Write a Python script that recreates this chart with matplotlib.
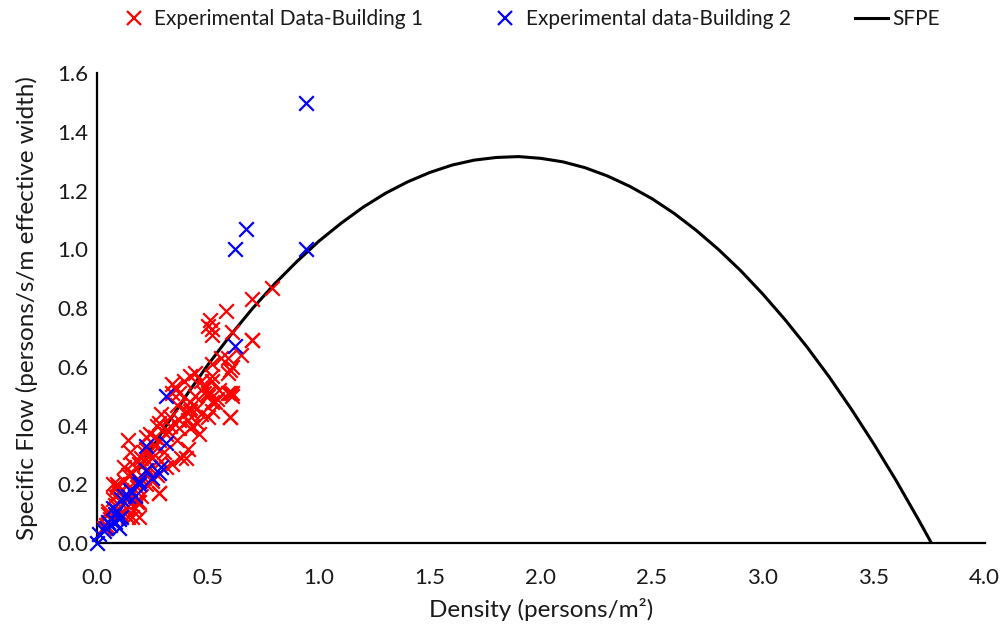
import numpy as np
import matplotlib
matplotlib.use("Agg")
import matplotlib.pyplot as plt
from matplotlib.lines import Line2D

plt.rcParams['font.family'] = ['Lato', 'DejaVu Sans']

# Building 1 measurements: density (persons/m2), specific flow (persons/s/m)
b1_density = [0.79, 0.70, 0.58, 0.51, 0.52, 0.61, 0.70, 0.59, 0.61, 0.59, 0.52, 0.42,
              0.52, 0.61, 0.61, 0.48, 0.50, 0.44, 0.35, 0.37, 0.60, 0.50, 0.52, 0.42,
              0.41, 0.29, 0.28, 0.33, 0.37, 0.42, 0.32, 0.24, 0.22, 0.14, 0.28, 0.41,
              0.38, 0.40, 0.34, 0.29, 0.24, 0.20, 0.15, 0.16, 0.27, 0.28, 0.22, 0.20,
              0.17, 0.19, 0.14, 0.12, 0.09, 0.10, 0.07, 0.05, 0.12, 0.15, 0.23, 0.44,
              0.47, 0.40, 0.36, 0.52, 0.50, 0.53, 0.60, 0.70, 0.52, 0.42, 0.39, 0.34,
              0.34, 0.48, 0.50, 0.60, 0.42, 0.45, 0.52, 0.09, 0.07, 0.16, 0.19, 0.05,
              0.03, 0.13, 0.28, 0.60, 0.59, 0.14, 0.11, 0.18, 0.21, 0.25, 0.26, 0.31,
              0.30, 0.23, 0.17, 0.13, 0.08, 0.06, 0.11, 0.15, 0.19, 0.22, 0.26, 0.33,
              0.37, 0.45, 0.47, 0.55, 0.56, 0.46, 0.31, 0.25, 0.18, 0.10, 0.04, 0.08,
              0.12, 0.21, 0.36, 0.43, 0.54, 0.65, 0.27, 0.20, 0.16, 0.14]
b1_flow = [0.87, 0.83, 0.79, 0.76, 0.73, 0.72, 0.69, 0.63, 0.60, 0.58, 0.57, 0.57,
           0.55, 0.51, 0.50, 0.51, 0.50, 0.50, 0.53, 0.51, 0.43, 0.43, 0.45, 0.45,
           0.42, 0.44, 0.41, 0.43, 0.39, 0.39, 0.38, 0.37, 0.36, 0.35, 0.35, 0.32,
           0.29, 0.29, 0.27, 0.28, 0.30, 0.29, 0.31, 0.27, 0.23, 0.17, 0.20, 0.16,
           0.12, 0.09, 0.09, 0.14, 0.20, 0.17, 0.15, 0.11, 0.21, 0.18, 0.25, 0.58,
           0.55, 0.45, 0.47, 0.71, 0.74, 0.48, 0.59, 0.69, 0.61, 0.48, 0.55, 0.54,
           0.51, 0.53, 0.51, 0.51, 0.46, 0.46, 0.48, 0.19, 0.20, 0.09, 0.14, 0.10,
           0.05, 0.12, 0.17, 0.43, 0.51, 0.23, 0.10, 0.19, 0.22, 0.29, 0.33, 0.37,
           0.31, 0.28, 0.21, 0.16, 0.13, 0.08, 0.18, 0.24, 0.27, 0.32, 0.36, 0.40,
           0.42, 0.41, 0.44, 0.52, 0.63, 0.37, 0.26, 0.21, 0.14, 0.10, 0.06, 0.16,
           0.26, 0.31, 0.35, 0.40, 0.49, 0.64, 0.40, 0.27, 0.24, 0.15]

# Building 2 measurements
b2_density = [0.94, 0.94, 0.67, 0.62, 0.62, 0.31, 0.22, 0.31, 0.29, 0.22, 0.19, 0.17,
              0.14, 0.11, 0.00, 0.03, 0.05, 0.08, 0.10, 0.07, 0.12, 0.15, 0.19, 0.25,
              0.28, 0.10, 0.01, 0.06, 0.09, 0.04, 0.11, 0.08]
b2_flow = [1.50, 1.00, 1.07, 1.00, 0.67, 0.50, 0.33, 0.34, 0.26, 0.25, 0.21, 0.16,
           0.16, 0.15, 0.00, 0.04, 0.07, 0.10, 0.08, 0.12, 0.16, 0.18, 0.20, 0.22,
           0.24, 0.05, 0.03, 0.06, 0.11, 0.05, 0.09, 0.07]

# SFPE specific flow curve
sfpe_density = [0.19, 0.3, 0.4, 0.5, 0.6, 0.7, 0.8, 0.9, 1.0, 1.1, 1.2, 1.3, 1.4,
                1.5, 1.6, 1.7, 1.8, 1.9, 2.0, 2.1, 2.2, 2.3, 2.4, 2.5, 2.6, 2.7,
                2.8, 2.9, 3.0, 3.1, 3.2, 3.3, 3.4, 3.5, 3.6, 3.7, 3.76]
sfpe_flow = [0.253, 0.386, 0.500, 0.607, 0.706, 0.798, 0.882, 0.958, 1.028, 1.089,
             1.144, 1.191, 1.230, 1.262, 1.287, 1.304, 1.313, 1.316, 1.310, 1.298,
             1.278, 1.250, 1.215, 1.173, 1.123, 1.065, 1.000, 0.928, 0.848, 0.761,
             0.667, 0.565, 0.455, 0.338, 0.214, 0.082, 0.0]

fig = plt.figure(figsize=(10.03, 6.31), dpi=100)
ax = fig.add_axes([0.0967, 0.1395, 0.885, 0.7445])

ax.scatter(b1_density, b1_flow, marker='x', s=110, c='#ff0000', linewidths=1.6,
           clip_on=False, zorder=3)
ax.scatter(b2_density, b2_flow, marker='x', s=110, c='#0000ff', linewidths=1.6,
           clip_on=False, zorder=4)
ax.plot(sfpe_density, sfpe_flow, color='black', lw=2.2, zorder=2)

ax.set_xlim(0, 4.0)
ax.set_ylim(0, 1.6)
ax.set_xticks(np.arange(0, 4.01, 0.5))
ax.set_yticks(np.arange(0, 1.61, 0.2))
ax.xaxis.set_major_formatter(matplotlib.ticker.FormatStrFormatter('%.1f'))
ax.yaxis.set_major_formatter(matplotlib.ticker.FormatStrFormatter('%.1f'))
ax.tick_params(length=0, labelsize=16, colors='#1a1a1a')
ax.tick_params(axis='x', pad=18)
ax.tick_params(axis='y', pad=6)

for side in ['top', 'right']:
    ax.spines[side].set_visible(False)
for side in ['left', 'bottom']:
    ax.spines[side].set_linewidth(1.6)
    ax.spines[side].set_color('black')

ax.set_xlabel('Density (persons/m²)', fontsize=17.5, color='#1a1a1a', labelpad=7)
ax.set_ylabel('Specific Flow (persons/s/m effective width)', fontsize=17.5,
              color='#1a1a1a', labelpad=14)

handles = [
    Line2D([], [], ls='none', marker='x', color='#ff0000', markersize=10, mew=1.6),
    Line2D([], [], ls='none', marker='x', color='#0000ff', markersize=10, mew=1.6),
    Line2D([], [], color='black', lw=2.2),
]
labels = ['Experimental Data-Building 1', 'Experimental data-Building 2', 'SFPE']
fig.legend(handles, labels, loc='upper center', bbox_to_anchor=(0.527, 1.015),
           ncol=3, frameon=False, fontsize=15, columnspacing=3.1, handletextpad=0.2,
           handlelength=1.6, labelcolor='#1a1a1a')

fig.savefig('out.png', dpi=100)
